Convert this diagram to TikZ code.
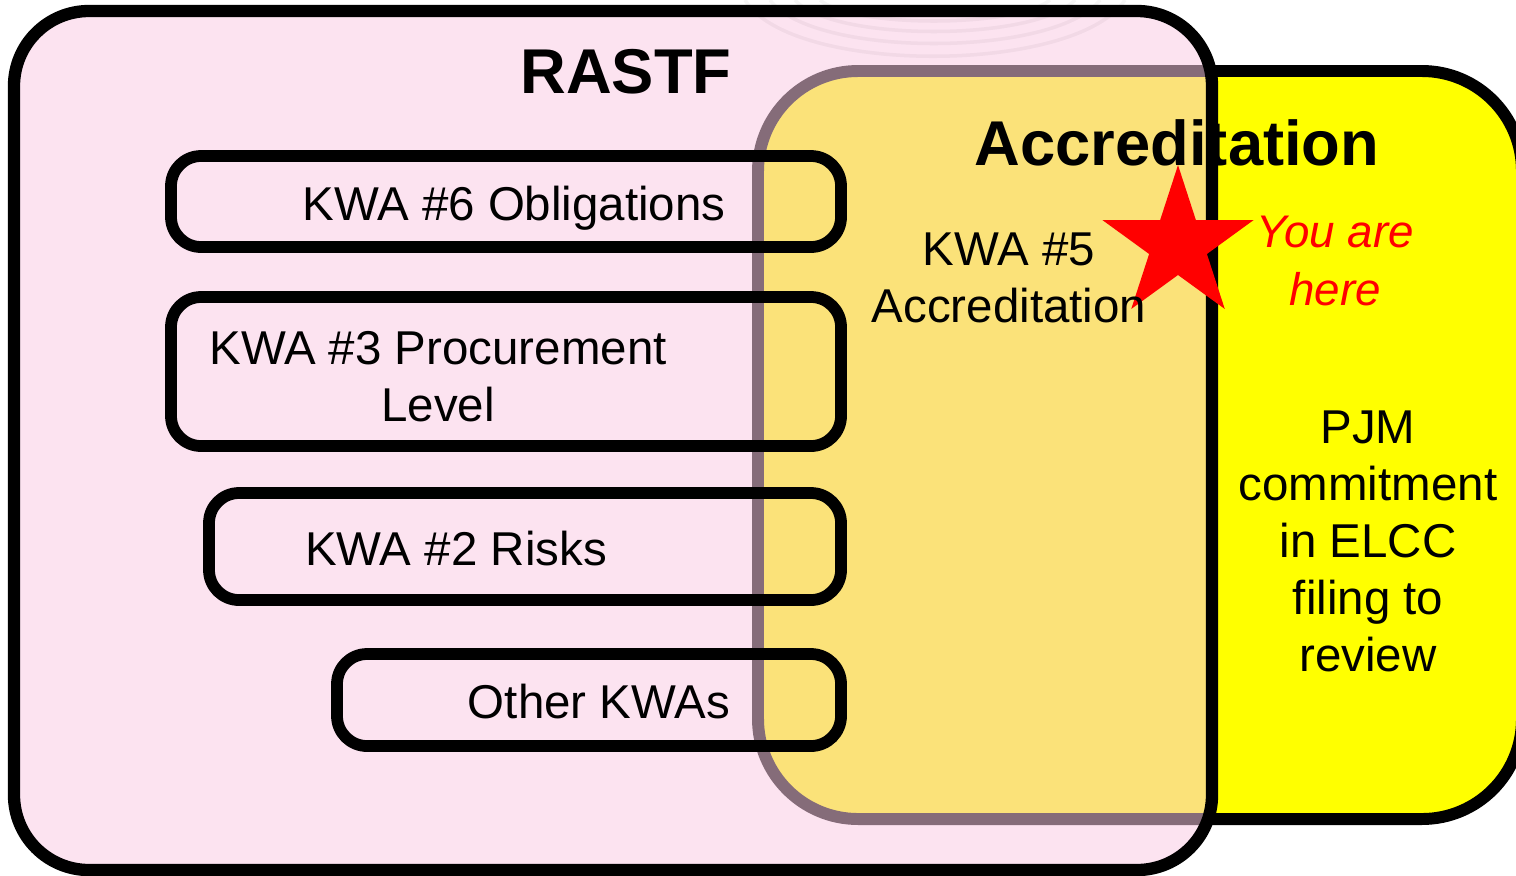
\documentclass[tikz,border=0pt]{standalone}
\usepackage{fontspec}
\setmainfont{Liberation Sans}
\usetikzlibrary{shapes.geometric, positioning}
\definecolor{rastfPink}{RGB}{249,202,227}
\definecolor{accYellow}{RGB}{255,255,0}
\definecolor{hereRed}{RGB}{255,0,0}
\tikzset{
    rastfFill/.style={fill=rastfPink, fill opacity=0.537, rounded corners=0.75cm},
    rastfLine/.style={draw=black, line width=3.5pt, rounded corners=0.75cm},
    accBox/.style={draw=black, fill=accYellow, line width=3.4pt, rounded corners=1cm},
    kwaBox/.style={draw=black, line width=3.35pt, rounded corners=0.3cm},
    kwaText/.style={font=\fontsize{13.5}{16.2}\selectfont, align=center, anchor=base, inner sep=0pt},
    titleText/.style={font=\bfseries\fontsize{18}{21.6}\selectfont, anchor=base, inner sep=0pt},
    hereText/.style={font=\itshape\fontsize{13}{16.4}\selectfont, text=hereRed, align=center, anchor=base, inner sep=0pt},
    markStar/.style={star, star points=5, star point ratio=2.618, fill=hereRed, minimum size=1.59cm, inner sep=0pt},
    logoArc/.style={draw=black, draw opacity=0.04, line width=1pt},
}
\newcommand{\drawKWA}[2]{
    \draw[kwaBox] (#1) rectangle (#2);
}

\begin{document}
\begin{tikzpicture}[x=0.01cm, y=-0.01cm]
    \useasboundingbox (0,0) rectangle (1516,875);
    \clip (0,0) rectangle (1516,875);

    % accreditation area, partly under the RASTF box
    \draw[accBox] (758,71) rectangle (1522,819);
    \fill[rastfFill] (14,11) rectangle (1212,870);

    % faint logo lines at the top
    \draw[logoArc] (745,0) .. controls (790,75) and (1075,75) .. (1125,0);
    \draw[logoArc] (770,0) .. controls (812,58) and (1055,58) .. (1100,0);
    \draw[logoArc] (795,0) .. controls (832,42) and (1035,42) .. (1075,0);
    \draw[logoArc] (820,0) .. controls (852,28) and (1015,28) .. (1050,0);

    \draw[rastfLine] (14,11) rectangle (1212,870);

    \drawKWA{171,156}{841,247}
    \drawKWA{171,297}{841,446}
    \drawKWA{209,493}{841,600}
    \drawKWA{337,654}{841,746}

    \node[markStar] (star) at (1178,244.6) {};

    \node[titleText] (rastf) at (626,93) {RASTF};
    \node[titleText] (acc) at (1177,165) {Accreditation};

    % multi-line texts sit on their last baseline
    \node[kwaText] (kwa6) at (514,220) {KWA \#6 Obligations};
    \node[kwaText] (kwa3) at (438,421) {KWA \#3 Procurement\\Level};
    \node[kwaText] (kwa2) at (456,565) {KWA \#2 Risks};
    \node[kwaText] (other) at (599,718) {Other KWAs};
    \node[kwaText] (kwa5) at (1009,322) {KWA \#5\\Accreditation};
    \node[hereText] (here) at (1335,305) {You are\\here};
    \node[kwaText] (pjm) at (1368,671) {PJM\\commitment\\in ELCC\\filing to\\review};

\end{tikzpicture}
\end{document}
